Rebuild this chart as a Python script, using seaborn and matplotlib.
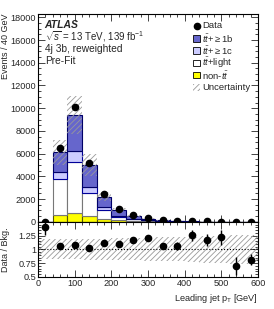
import numpy as np
import pandas as pd
import matplotlib
matplotlib.use("Agg")
import matplotlib.pyplot as plt
import seaborn as sns
from matplotlib.ticker import AutoMinorLocator, MultipleLocator, FixedLocator
from matplotlib.patches import Rectangle

# binning (leading jet pT, 40 GeV bins)
edges = list(range(0, 640, 40))
centers = np.array(edges[:-1]) + 20

# stacked background components
tt_b = [3, 1750, 3215, 1960, 904, 525, 235, 130, 66, 35, 20, 12, 7, 5, 3]
tt_c = [1, 620, 940, 530, 236, 115, 60, 35, 18, 10, 5, 3, 2, 1, 1]
tt_light = [5, 3156, 4470, 2040, 815, 260, 140, 75, 38, 20, 11, 7, 4, 2, 1]
non_tt = [2, 614, 790, 500, 265, 150, 90, 50, 28, 15, 9, 6, 4, 3, 2]

data = [15.5, 6460, 10150, 5180, 2460, 1155, 615, 348, 159, 85, 56.5, 32.6, 20.7, 7.7, 5.7]
ratio_err = [0.15, 0.01, 0.01, 0.015, 0.02, 0.03, 0.04, 0.05, 0.06, 0.07, 0.1, 0.11, 0.13, 0.17, 0.1]
rel_unc = [0.18, 0.18, 0.18, 0.19, 0.19, 0.2, 0.2, 0.21, 0.22, 0.22, 0.23, 0.24, 0.25, 0.26, 0.27]

comp_names = ["tt_b", "tt_c", "tt_light", "non_tt"]
comp_colors = {"tt_b": "#6666cc", "tt_c": "#ccccff", "tt_light": "#ffffff", "non_tt": "#ffff00"}
comp_edges = {"tt_b": "#000066", "tt_c": "#000099", "tt_light": "#777777", "non_tt": "#555500"}
comp_labels = {"tt_b": r"$t\bar{t}$+$\geq$1b", "tt_c": r"$t\bar{t}$+$\geq$1c",
               "tt_light": r"$t\bar{t}$+light", "non_tt": r"non-$t\bar{t}$"}

sns.set_style("ticks")
plt.rcParams["font.family"] = ["Liberation Sans", "DejaVu Sans"]
plt.rcParams["mathtext.fontset"] = "custom"
plt.rcParams["mathtext.rm"] = "Liberation Sans"
plt.rcParams["mathtext.it"] = "Liberation Sans:italic"
plt.rcParams["hatch.linewidth"] = 0.6

df = pd.DataFrame({
    "pt": np.tile(centers, 4),
    "w": np.concatenate([tt_b, tt_c, tt_light, non_tt]).astype(float),
    "comp": np.repeat(comp_names, len(centers)),
})

fig = plt.figure(figsize=(2.74, 3.09), dpi=100)
ax = fig.add_axes([0.139, 0.282, 0.803, 0.673])
rax = fig.add_axes([0.139, 0.104, 0.803, 0.178], sharex=ax)

sns.histplot(data=df, x="pt", weights="w", hue="comp", hue_order=comp_names,
             multiple="stack", bins=edges, palette=comp_colors, alpha=1,
             linewidth=0.8, legend=False, ax=ax)
# per-component outline colours
col_to_name = {matplotlib.colors.to_hex(c): n for n, c in comp_colors.items()}
for p in ax.patches:
    name = col_to_name.get(matplotlib.colors.to_hex(p.get_facecolor()))
    if name:
        p.set_edgecolor(comp_edges[name])

total = np.sum([tt_b, tt_c, tt_light, non_tt], axis=0).astype(float)
unc = np.array(rel_unc)
up = np.append(total * (1 + unc), total[-1] * (1 + unc[-1]))
dn = np.append(total * (1 - unc), total[-1] * (1 - unc[-1]))
ax.fill_between(edges, dn, up, step="post", facecolor="none", edgecolor="#999999",
                hatch="//////", linewidth=0)

data = np.array(data)
ax.errorbar(centers, data, yerr=np.sqrt(data), fmt="o", color="black", ms=4.5,
            elinewidth=1, capsize=0, clip_on=False, zorder=5)

ax.set_xlim(0, 600)
ax.set_ylim(0, 18300)
ax.yaxis.set_major_locator(MultipleLocator(2000))
ax.yaxis.set_minor_locator(AutoMinorLocator(4))
ax.set_ylabel("Events / 40 GeV", loc="top", fontsize=6.5)
ax.set_xlabel("")
plt.setp(ax.get_xticklabels(), visible=False)

ax.text(0.03, 0.947, "ATLAS", transform=ax.transAxes, fontsize=7.5, fontweight="bold",
        fontstyle="italic", va="center")
ax.text(0.03, 0.892, r"$\sqrt{s}$ = 13 TeV, 139 fb$^{-1}$", transform=ax.transAxes,
        fontsize=7, va="center")
ax.text(0.03, 0.83, "4j 3b, reweighted", transform=ax.transAxes, fontsize=7.3, va="center")
ax.text(0.03, 0.772, "Pre-Fit", transform=ax.transAxes, fontsize=7.3, va="center")

# legend, drawn row by row
y0, dy = 0.942, 0.0591
ax.plot([0.72], [y0], "o", color="black", ms=4.5, transform=ax.transAxes)
ax.text(0.747, y0, "Data", transform=ax.transAxes, fontsize=6.8, va="center")
for i, n in enumerate(comp_names, start=1):
    yy = y0 - i * dy
    ax.add_patch(Rectangle((0.703, yy - 0.016), 0.033, 0.032, transform=ax.transAxes,
                           facecolor=comp_colors[n], edgecolor="black", lw=0.6))
    ax.text(0.747, yy, comp_labels[n], transform=ax.transAxes, fontsize=6.8, va="center")
yy = y0 - 5 * dy
ax.add_patch(Rectangle((0.703, yy - 0.016), 0.033, 0.032, transform=ax.transAxes,
                       facecolor="none", edgecolor="#999999", hatch="//////", lw=0))
ax.text(0.747, yy, "Uncertainty", transform=ax.transAxes, fontsize=6.8, va="center")

# ratio panel
ratio = data / total
r_up = np.append(1 + unc, 1 + unc[-1])
r_dn = np.append(1 - unc, 1 - unc[-1])
rax.fill_between(edges, r_dn, r_up, step="post", facecolor="none", edgecolor="#999999",
                 hatch="//////", linewidth=0)
rax.axhline(1, color="black", ls=":", lw=0.8)
rax.errorbar(centers, ratio, yerr=ratio_err, fmt="o", color="black", ms=4.5,
             elinewidth=1, capsize=0, zorder=5)
rax.set_ylim(0.5, 1.5)
rax.yaxis.set_major_locator(FixedLocator([0.5, 0.75, 1.0, 1.25]))
rax.set_yticklabels(["0.5", "0.75", "1", "1.25"])
rax.yaxis.set_minor_locator(AutoMinorLocator(5))
rax.xaxis.set_major_locator(MultipleLocator(100))
rax.xaxis.set_minor_locator(AutoMinorLocator(5))
rax.set_ylabel("Data / Bkg.", fontsize=6.5)
rax.set_xlabel(r"Leading jet p$_{\mathrm{T}}$ [GeV]", loc="right", fontsize=6.6, labelpad=3)

for a in (ax, rax):
    a.tick_params(which="both", direction="in", top=True, right=True, labelsize=6.6, pad=1.5)
    a.tick_params(which="major", length=5, width=0.6)
    a.tick_params(which="minor", length=2.5, width=0.6)
    for s in a.spines.values():
        s.set_linewidth(0.8)
        s.set_color("black")

ax.yaxis.set_label_coords(-0.128, 1.0)
rax.yaxis.set_label_coords(-0.128, 0.5)

fig.savefig("out.png", dpi=100)
